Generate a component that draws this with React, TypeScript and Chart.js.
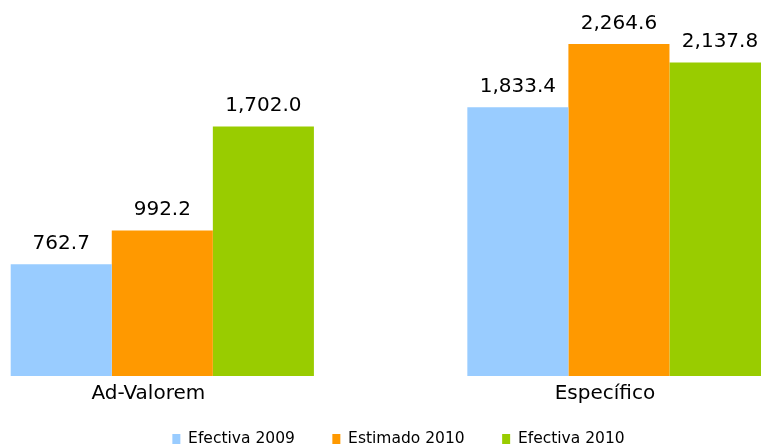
import React, { useEffect, useRef } from 'react';
import { Chart, registerables } from 'chart.js';

Chart.register(...registerables);

const categories = ['Ad-Valorem', 'Específico'];
const seriesNames = ['Efectiva 2009', 'Estimado 2010', 'Efectiva 2010'];
const efectiva2009 = [762.7, 1833.4];
const estimado2010 = [992.2, 2264.6];
const efectiva2010 = [1702.0, 2137.8];
const seriesColors = ['#99CCFF', '#FF9900', '#99CC00'];

const FONT = "'DejaVu Sans', sans-serif";
const CANVAS_W = 929;
const CANVAS_H = 448;
const CANVAS_LEFT = -66;

const valueLabels = {
  id: 'valueLabels',
  afterDatasetsDraw(chart: any) {
    const ctx = chart.ctx;
    ctx.save();
    ctx.font = `20px ${FONT}`;
    ctx.fillStyle = '#000000';
    ctx.textAlign = 'center';
    ctx.textBaseline = 'alphabetic';
    chart.data.datasets.forEach((ds: any, i: number) => {
      const meta = chart.getDatasetMeta(i);
      meta.data.forEach((bar: any, j: number) => {
        const v = ds.data[j] as number;
        const txt = v.toLocaleString('en-US', { minimumFractionDigits: 1, maximumFractionDigits: 1 });
        ctx.fillText(txt, bar.x, bar.y - 15.5);
      });
    });
    ctx.restore();
  },
};

export default function App() {
  const ref = useRef<HTMLCanvasElement | null>(null);

  useEffect(() => {
    document.body.style.margin = '0';
    document.body.style.overflow = 'hidden';
    const canvas = ref.current;
    if (!canvas) return;
    const seriesData = [efectiva2009, estimado2010, efectiva2010];
    const chart = new Chart(canvas, {
      type: 'bar',
      data: {
        labels: categories,
        datasets: seriesNames.map((name, i) => ({
          label: name,
          data: seriesData[i],
          backgroundColor: seriesColors[i],
          borderWidth: 0,
          barPercentage: 1,
          categoryPercentage: 0.664,
        })),
      },
      options: {
        responsive: false,
        animation: false,
        events: [],
        layout: {
          padding: 0,
        },
        scales: {
          x: {
            clip: false,
            grid: { display: false, drawTicks: false },
            border: { display: false },
            ticks: {
              color: '#000000',
              font: { family: FONT, size: 20, lineHeight: 1.2 },
              mirror: true,
              padding: -29.7,
              labelOffset: -14,
              maxRotation: 0,
              autoSkip: false,
            },
            afterFit: (scale: any) => {
              scale.height = 17.75;
            },
          },
          y: {
            position: 'right',
            min: 0,
            max: 2565,
            grid: { display: false, drawTicks: false },
            border: { display: false },
            ticks: { display: false },
            afterFit: (scale: any) => {
              scale.width = 15.75;
            },
          },
        },
        plugins: {
          tooltip: { enabled: false },
          legend: {
            position: 'bottom',
            maxHeight: 54.25,
            labels: {
              boxWidth: 8,
              boxHeight: 10,
              padding: 37.5,
              color: '#000000',
              font: { family: FONT, size: 15.5 },
            },
          },
        },
      },
      plugins: [valueLabels],
    } as any);
    return () => chart.destroy();
  }, []);

  return (
    <div style={{ position: 'fixed', left: 0, top: 0, width: 761, height: 448, overflow: 'hidden', background: '#ffffff' }}>
      <canvas
        ref={ref}
        width={CANVAS_W}
        height={CANVAS_H}
        style={{ position: 'absolute', left: CANVAS_LEFT, top: 0, display: 'block', width: CANVAS_W, height: CANVAS_H }}
      />
    </div>
  );
}
